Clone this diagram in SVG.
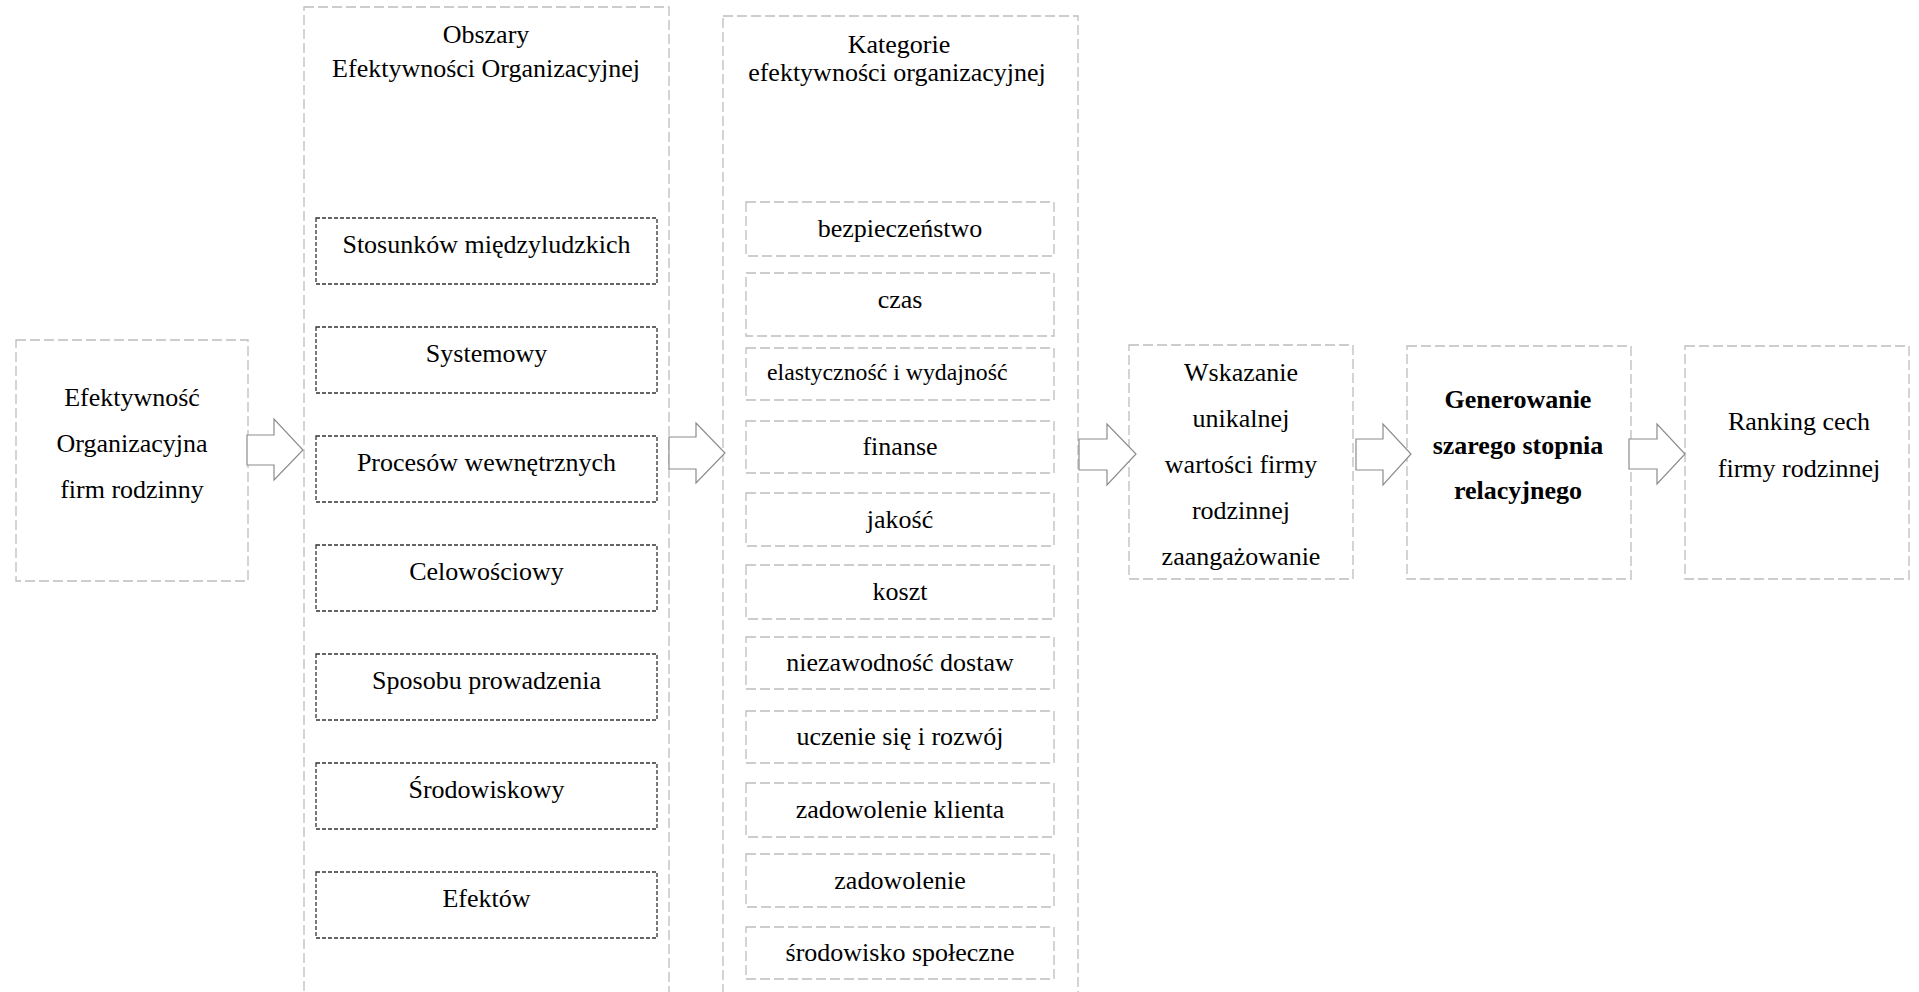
<svg xmlns="http://www.w3.org/2000/svg" width="1919" height="992" viewBox="0 0 1919 992">
<style>
text{font-family:"Liberation Serif","Times New Roman",serif;font-size:26px;fill:#000;text-anchor:middle}
.b{font-weight:bold}
.s{font-size:23.8px;text-anchor:start}
.g{fill:#fff;stroke:#bdbdbd;stroke-width:1.3;stroke-dasharray:10 4}
.k{fill:#fff;stroke:#333;stroke-width:1.3;stroke-dasharray:4 2}
.a{fill:#fff;stroke:#8c8c8c;stroke-width:1.2}
</style>
<rect width="1919" height="992" fill="#fff"/>
<g id="n-efektywnosc">
<rect class="g" x="16" y="340" width="232" height="241"/>
<text x="132" y="406">Efektywność</text>
<text x="132" y="452">Organizacyjna</text>
<text x="132" y="498">firm rodzinny</text>
</g>
<g id="n-obszary">
<rect class="g" x="304" y="7" width="365" height="1100"/>
<text x="486" y="43">Obszary</text>
<text x="486" y="77">Efektywności Organizacyjnej</text>
</g>
<g id="n-o1"><rect class="k" x="316" y="218" width="341" height="66"/><text x="486.5" y="253">Stosunków międzyludzkich</text></g>
<g id="n-o2"><rect class="k" x="316" y="327" width="341" height="66"/><text x="486.5" y="362">Systemowy</text></g>
<g id="n-o3"><rect class="k" x="316" y="436" width="341" height="66"/><text x="486.5" y="471">Procesów wewnętrznych</text></g>
<g id="n-o4"><rect class="k" x="316" y="545" width="341" height="66"/><text x="486.5" y="580">Celowościowy</text></g>
<g id="n-o5"><rect class="k" x="316" y="654" width="341" height="66"/><text x="486.5" y="689">Sposobu prowadzenia</text></g>
<g id="n-o6"><rect class="k" x="316" y="763" width="341" height="66"/><text x="486.5" y="798">Środowiskowy</text></g>
<g id="n-o7"><rect class="k" x="316" y="872" width="341" height="66"/><text x="486.5" y="907">Efektów</text></g>
<g id="n-kategorie">
<rect class="g" x="723" y="16" width="355" height="1100"/>
<text x="899" y="53">Kategorie</text>
<text x="897" y="81">efektywności organizacyjnej</text>
</g>
<g id="n-k1"><rect class="g" x="746" y="202" width="308" height="54"/><text x="900" y="237">bezpieczeństwo</text></g>
<g id="n-k2"><rect class="g" x="746" y="273" width="308" height="63"/><text x="900" y="308">czas</text></g>
<g id="n-k3"><rect class="g" x="746" y="348" width="308" height="52"/><text class="s" x="767" y="380">elastyczność i wydajność</text></g>
<g id="n-k4"><rect class="g" x="746" y="421" width="308" height="52"/><text x="900" y="455">finanse</text></g>
<g id="n-k5"><rect class="g" x="746" y="493" width="308" height="53"/><text x="900" y="528">jakość</text></g>
<g id="n-k6"><rect class="g" x="746" y="565" width="308" height="54"/><text x="900" y="600">koszt</text></g>
<g id="n-k7"><rect class="g" x="746" y="637" width="308" height="52"/><text x="900" y="671">niezawodność dostaw</text></g>
<g id="n-k8"><rect class="g" x="746" y="711" width="308" height="52"/><text x="900" y="745">uczenie się i rozwój</text></g>
<g id="n-k9"><rect class="g" x="746" y="783" width="308" height="54"/><text x="900" y="818">zadowolenie klienta</text></g>
<g id="n-k10"><rect class="g" x="746" y="854" width="308" height="53"/><text x="900" y="889">zadowolenie</text></g>
<g id="n-k11"><rect class="g" x="746" y="927" width="308" height="52"/><text x="900" y="961">środowisko społeczne</text></g>
<g id="n-wskazanie">
<rect class="g" x="1129" y="345" width="224" height="234"/>
<text x="1241" y="381">Wskazanie</text>
<text x="1241" y="427">unikalnej</text>
<text x="1241" y="473">wartości firmy</text>
<text x="1241" y="519">rodzinnej</text>
<text x="1241" y="565">zaangażowanie</text>
</g>
<g id="n-generowanie">
<rect class="g" x="1407" y="346" width="224" height="233"/>
<text class="b" x="1518" y="408">Generowanie</text>
<text class="b" x="1518" y="454">szarego stopnia</text>
<text class="b" x="1518" y="499">relacyjnego</text>
</g>
<g id="n-ranking">
<rect class="g" x="1685" y="346" width="224" height="233"/>
<text x="1799" y="430">Ranking cech</text>
<text x="1799" y="477">firmy rodzinnej</text>
</g>
<g id="connectors">
<polygon class="a" points="247,435 274,435 274,419 303,450 274,480 274,465 247,465"/>
<polygon class="a" points="669,437 696,437 696,423 725,453 696,483 696,469 669,469"/>
<polygon class="a" points="1079,439 1107,439 1107,424 1136,454 1107,485 1107,470 1079,470"/>
<polygon class="a" points="1356,439 1383,439 1383,424 1411,454 1383,485 1383,470 1356,470"/>
<polygon class="a" points="1629,439 1657,439 1657,424 1685,454 1657,484 1657,469 1629,469"/>
</g>
</svg>
